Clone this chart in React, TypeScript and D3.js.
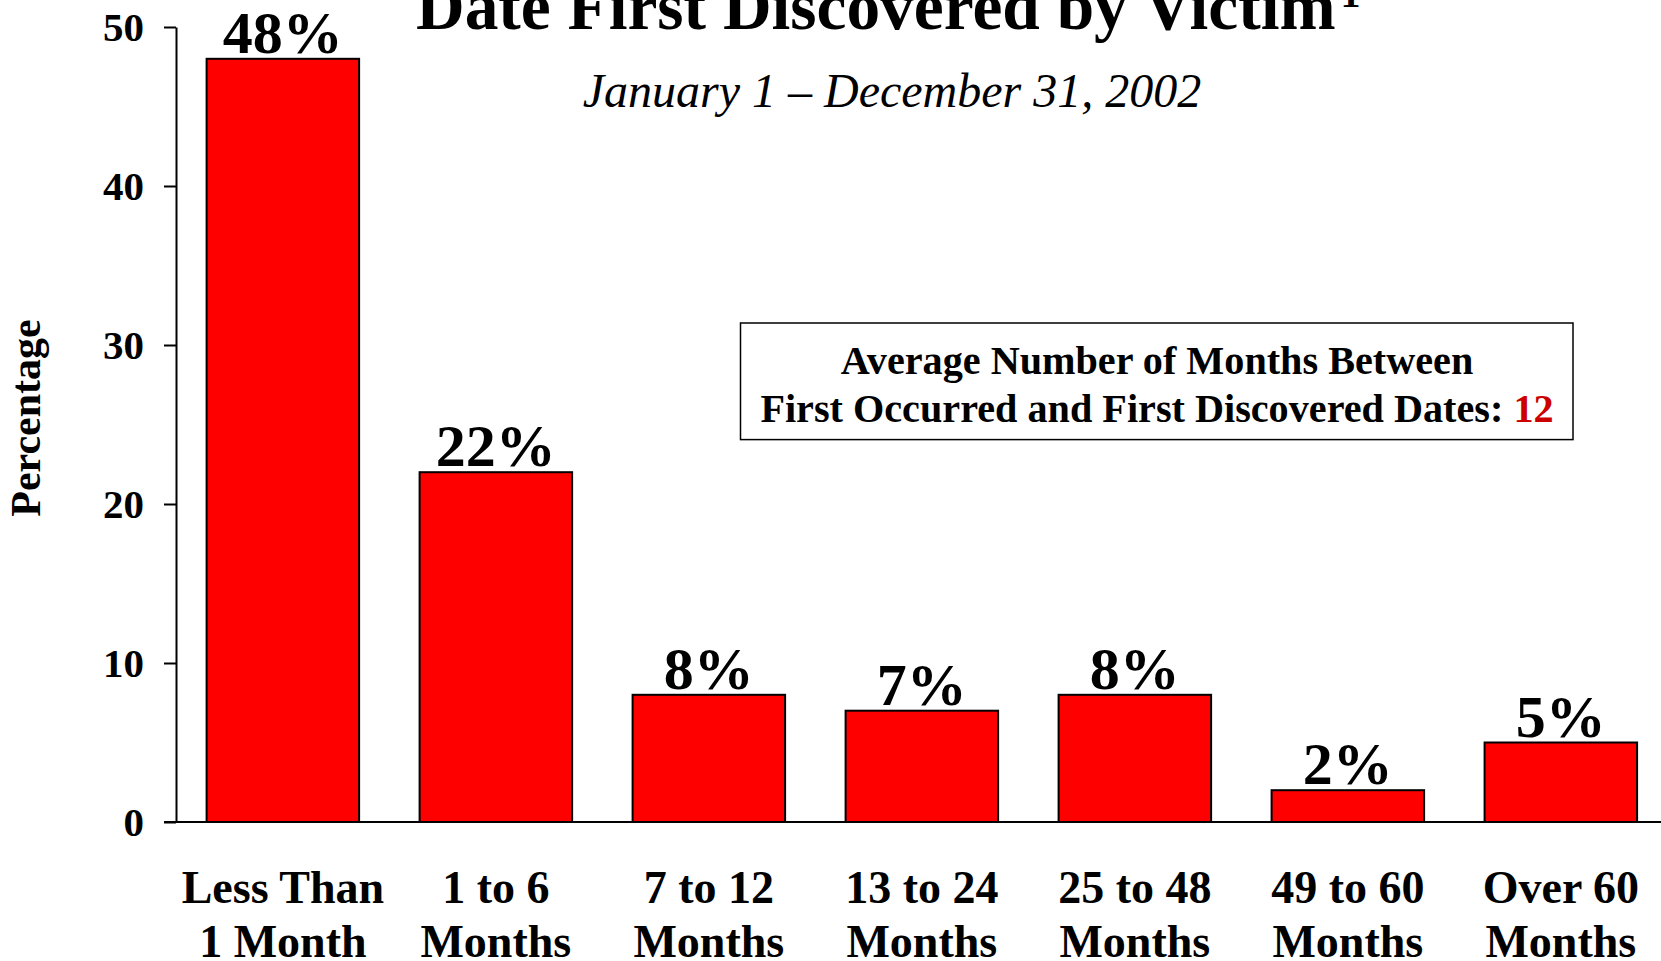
import React, { useEffect, useRef } from 'react'
import { select, scaleBand, scaleLinear, axisLeft } from 'd3'

const categoriesTop = ['Less Than', '1 to 6', '7 to 12', '13 to 24', '25 to 48', '49 to 60', 'Over 60']
const categoriesBottom = ['1 Month', 'Months', 'Months', 'Months', 'Months', 'Months', 'Months']
const percents = [48, 22, 8, 7, 8, 2, 5]
const yTicks = [0, 10, 20, 30, 40, 50]

const titleText = 'Date First Discovered by Victim'
const titleNote = '1'
const subtitleText = 'January 1 \u2013 December 31, 2002'
const yLabel = 'Percentage'
const boxLine1 = 'Average Number of Months Between'
const boxLine2 = 'First Occurred and First Discovered Dates: '
const averageMonths = '12'

const W = 1661
const H = 961
const FONT = '"Liberation Serif", "Times New Roman", serif'

export default function App() {
  const ref = useRef<SVGSVGElement>(null)

  useEffect(() => {
    const svg = select(ref.current)
    svg.selectAll('*').remove()

    const axisX = 176
    const y = scaleLinear().domain([0, 50]).range([822, 27])
    const x = scaleBand<string>()
      .domain(categoriesTop)
      .range([axisX, 1667.7])
      .paddingInner(0.284)
      .paddingOuter(0.1437)

    svg.append('rect').attr('width', W).attr('height', H).attr('fill', '#fff')

    // baseline
    svg.append('line')
      .attr('x1', axisX - 12).attr('x2', W)
      .attr('y1', y(0)).attr('y2', y(0))
      .attr('stroke', '#000').attr('stroke-width', 2)

    // bars
    svg.append('g').selectAll('rect')
      .data(percents)
      .enter().append('rect')
      .attr('x', (d, i) => x(categoriesTop[i]) as number)
      .attr('y', d => y(d))
      .attr('width', x.bandwidth())
      .attr('height', d => y(0) - y(d))
      .attr('fill', '#ff0000')
      .attr('stroke', '#000')
      .attr('stroke-width', 2)

    // value labels
    svg.append('g').selectAll('text')
      .data(percents)
      .enter().append('text')
      .attr('x', (d, i) => (x(categoriesTop[i]) as number) + x.bandwidth() / 2)
      .attr('y', d => y(d) - 6)
      .attr('text-anchor', 'middle')
      .style('font-family', FONT)
      .style('font-weight', 'bold')
      .style('font-size', '60px')
      .text(d => d + '%')

    // y axis
    const yAxis = svg.append('g')
      .attr('transform', `translate(${axisX},0)`)
      .call(axisLeft(y).tickValues(yTicks).tickSize(12).tickSizeOuter(0).tickPadding(20))
    yAxis.select('.domain').attr('stroke', '#000').attr('stroke-width', 2)
    yAxis.selectAll('.tick line').attr('stroke', '#000').attr('stroke-width', 2)
    yAxis.selectAll('.tick text')
      .attr('fill', '#000')
      .style('font-family', FONT)
      .style('font-weight', 'bold')
      .style('font-size', '41px')

    // category labels
    const cat = svg.append('g').selectAll('text')
      .data(categoriesTop)
      .enter().append('text')
      .attr('text-anchor', 'middle')
      .style('font-family', FONT)
      .style('font-weight', 'bold')
      .style('font-size', '46px')
    cat.append('tspan')
      .attr('x', d => (x(d) as number) + x.bandwidth() / 2)
      .attr('y', 903)
      .text(d => d)
    cat.append('tspan')
      .attr('x', d => (x(d) as number) + x.bandwidth() / 2)
      .attr('y', 957)
      .text((d, i) => categoriesBottom[i])

    // y label
    svg.append('text')
      .attr('transform', 'translate(40,418) rotate(-90)')
      .attr('text-anchor', 'middle')
      .style('font-family', FONT)
      .style('font-weight', 'bold')
      .style('font-size', '42px')
      .text(yLabel)

    // title
    const title = svg.append('text')
      .attr('x', 416)
      .attr('y', 29)
      .style('font-family', FONT)
      .style('font-weight', 'bold')
      .style('font-size', '67.4px')
    title.append('tspan').text(titleText)
    title.append('tspan')
      .attr('dx', 5).attr('dy', -22)
      .style('font-size', '40px')
      .text(titleNote)

    svg.append('text')
      .attr('x', 892)
      .attr('y', 107)
      .attr('text-anchor', 'middle')
      .style('font-family', FONT)
      .style('font-style', 'italic')
      .style('font-size', '48px')
      .text(subtitleText)

    // note box
    svg.append('rect')
      .attr('x', 740.5).attr('y', 323)
      .attr('width', 832.5).attr('height', 116.6)
      .attr('fill', '#fff')
      .attr('stroke', '#000')
      .attr('stroke-width', 1.5)

    const box = svg.append('g')
      .style('font-family', FONT)
      .style('font-weight', 'bold')
      .style('font-size', '40.2px')
    box.append('text')
      .attr('x', 1157).attr('y', 374)
      .attr('text-anchor', 'middle')
      .text(boxLine1)
    const l2 = box.append('text')
      .attr('x', 1157).attr('y', 421.6)
      .attr('text-anchor', 'middle')
    l2.append('tspan').text(boxLine2)
    l2.append('tspan').attr('fill', '#cc0000').text(averageMonths)
  }, [])

  return (
    <svg
      ref={ref}
      width={W}
      height={H}
      style={{ position: 'absolute', left: 0, top: 0, display: 'block' }}
    />
  )
}
